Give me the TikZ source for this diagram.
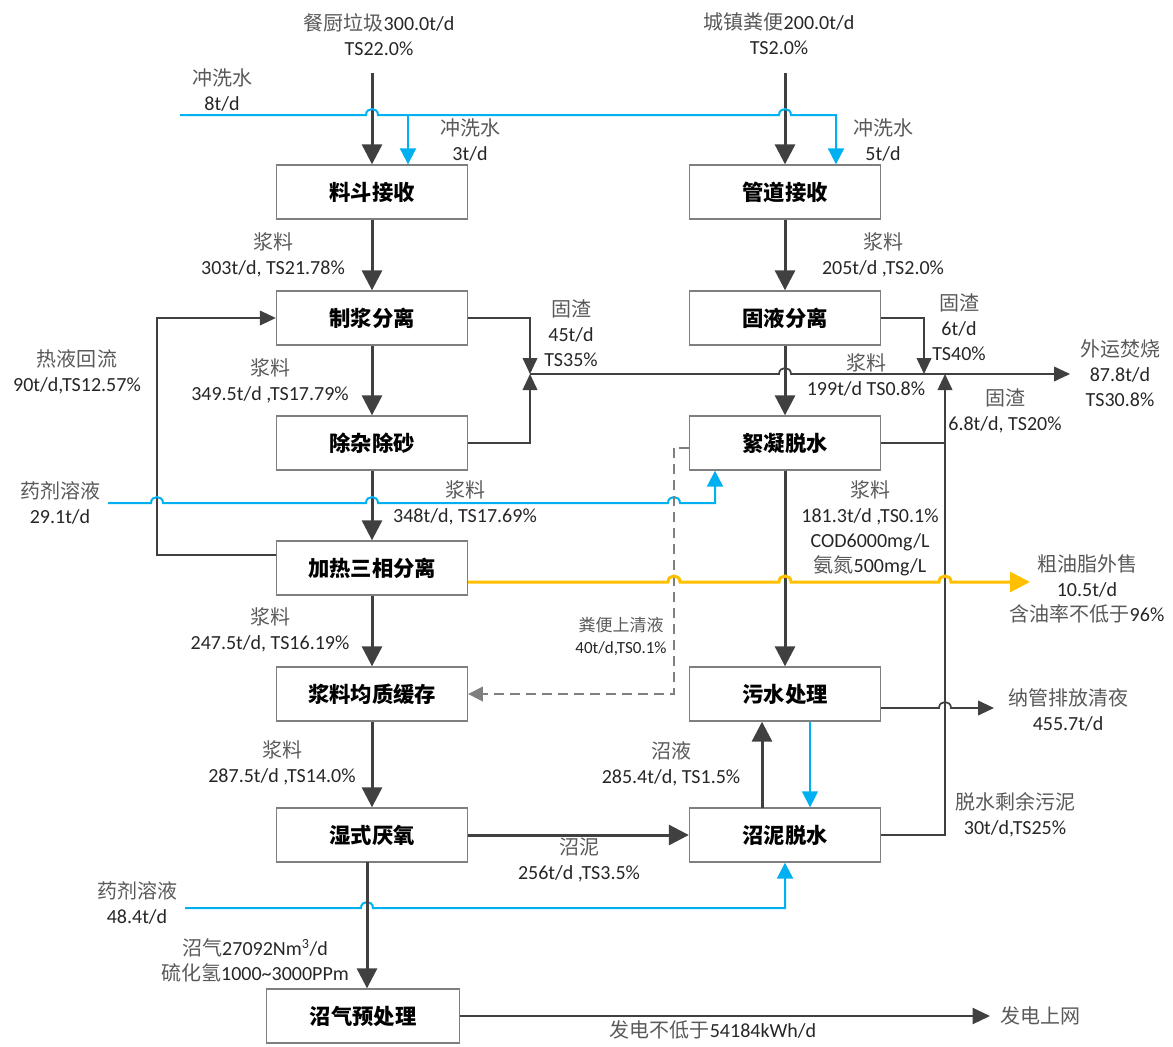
\documentclass[tikz,border=0pt]{standalone}
\usepackage{fontspec}
\setmainfont{Carlito}
\newfontfamily\cjk{Noto Sans CJK SC}
\usetikzlibrary{arrows.meta}
\definecolor{ink}{HTML}{404040}
\definecolor{edge}{HTML}{7F7F7F}
\definecolor{water}{HTML}{00B0F0}
\definecolor{oil}{HTML}{FFC000}
\definecolor{txt}{HTML}{262626}
\definecolor{zhtxt}{HTML}{595959}
\newcommand\zw[1]{{\cjk\color{zhtxt}#1}}
\begin{document}
\begin{tikzpicture}[x=0.75pt, y=-0.75pt,
  box/.style={draw=edge, line width=1pt, fill=white, minimum width=143.25pt,
    minimum height=40.5pt, inner sep=0pt, text=black,
    font=\cjk\bfseries\fontsize{16}{19}\selectfont},
  lbl/.style={align=center, inner sep=0pt, text=txt,
    font=\fontsize{15}{18.75}\selectfont},
  small/.style={font=\fontsize{12.75}{16.5}\selectfont},
  main/.style={draw=ink, line width=2.25pt, -{Triangle[width=15pt,length=15pt]}},
  flow/.style={draw=ink, line width=1.3pt},
  flowarr/.style={flow, -{Triangle[width=11pt,length=12pt]}},
  power/.style={draw=ink, line width=1.6pt, -{Triangle[width=12pt,length=13pt]}},
  wash/.style={draw=water, line width=1.5pt},
  washarr/.style={wash, -{Triangle[width=12pt,length=12pt]}},
  oilarr/.style={draw=oil, line width=2.25pt, -{Triangle[width=15pt,length=15pt]}},
  clear/.style={draw=edge, line width=1.2pt, dash pattern=on 7.5pt off 4.5pt,
    -{Triangle[width=11pt,length=11pt]}},
  hop/.style 2 args={insert path={-- ({#1-6},#2) .. controls ({#1-6},{#2-8}) and ({#1+6},{#2-8}) .. ({#1+6},#2)}}
]
\useasboundingbox (0,0) rectangle (1173,1046);

% process units
\node[box] (hopper)  at (372,192) {料斗接收};
\node[box] (pipe)    at (785,192) {管道接收};
\node[box] (pulp)    at (372,318) {制浆分离};
\node[box] (sls)     at (785,318) {固液分离};
\node[box] (grit)    at (372,443) {除杂除砂};
\node[box] (floc)    at (785,443) {絮凝脱水};
\node[box] (heat)    at (372,568) {加热三相分离};
\node[box] (buffer)  at (372,694) {浆料均质缓存};
\node[box] (sewage)  at (785,694) {污水处理};
\node[box] (ad)      at (372,835) {湿式厌氧};
\node[box] (dewater) at (785,835) {沼泥脱水};
\node[box, minimum width=144.75pt] (biogas) at (363,1016) {沼气预处理};

% stream labels
\node[lbl] (tFood)  at (379,35)  {\zw{餐厨垃圾}300.0t/d\\TS22.0\%};
\node[lbl] (tFece)  at (779,34)  {\zw{城镇粪便}200.0t/d\\TS2.0\%};
\node[lbl] (tWash1) at (222,90)  {\zw{冲洗水}\\8t/d};
\node[lbl] (tWash2) at (470,140) {\zw{冲洗水}\\3t/d};
\node[lbl] (tWash3) at (883,140) {\zw{冲洗水}\\5t/d};
\node[lbl] (tS1)    at (273,255) {\zw{浆料}\\303t/d, TS21.78\%};
\node[lbl] (tS2)    at (883,255) {\zw{浆料}\\205t/d ,TS2.0\%};
\node[lbl] (tR1)    at (571,333) {\zw{固渣}\\45t/d\\TS35\%};
\node[lbl] (tR2)    at (959,327) {\zw{固渣}\\6t/d\\TS40\%};
\node[lbl] (tHot)   at (77,372)  {\zw{热液回流}\\90t/d,TS12.57\%};
\node[lbl] (tS3)    at (270,381) {\zw{浆料}\\349.5t/d ,TS17.79\%};
\node[lbl] (tS4)    at (866,375) {\zw{浆料}\\199t/d TS0.8\%};
\node[lbl] (tBurn)  at (1120,373) {\zw{外运焚烧}\\87.8t/d\\TS30.8\%};
\node[lbl] (tR3)    at (1005,411) {\zw{固渣}\\6.8t/d, TS20\%};
\node[lbl] (tChem1) at (60,503)  {\zw{药剂溶液}\\29.1t/d};
\node[lbl] (tS5)    at (465,503) {\zw{浆料}\\348t/d, TS17.69\%};
\node[lbl] (tS6)    at (870,528) {\zw{浆料}\\181.3t/d ,TS0.1\%\\COD6000mg/L\\\zw{氨氮}500mg/L};
\node[lbl] (tOil)   at (1087,589) {\zw{粗油脂外售}\\10.5t/d\\\zw{含油率不低于}96\%};
\node[lbl, small] (tClear) at (621,636) {\zw{粪便上清液}\\40t/d,TS0.1\%};
\node[lbl] (tS7)    at (270,630) {\zw{浆料}\\247.5t/d, TS16.19\%};
\node[lbl] (tOut)   at (1068,710) {\zw{纳管排放清夜}\\455.7t/d};
\node[lbl] (tS8)    at (282,763) {\zw{浆料}\\287.5t/d ,TS14.0\%};
\node[lbl] (tLiq)   at (671,764) {\zw{沼液}\\285.4t/d, TS1.5\%};
\node[lbl] (tSludge) at (1015,815) {\zw{脱水剩余污泥}\\30t/d,TS25\%};
\node[lbl] (tDig)   at (579,860) {\zw{沼泥}\\256t/d ,TS3.5\%};
\node[lbl] (tChem2) at (137,903) {\zw{药剂溶液}\\48.4t/d};
\node[lbl] (tGas)   at (255,960) {\zw{沼气}27092Nm\textsuperscript{3}/d\\\zw{硫化氢}1000\textasciitilde 3000PPm};
\node[lbl] (tPow)   at (713,1030) {\zw{发电不低于}54184kWh/d};
\node[lbl] (tGrid)  at (1040,1016) {\zw{发电上网}};

% free ends and junctions
\coordinate (foodIn) at (372,73);
\coordinate (feceIn) at (785,73);
\coordinate (w0) at (180,115);
\coordinate (wA) at (408,115);
\coordinate (wB) at (836,115);
\coordinate (jA) at (530,374);
\coordinate (jB) at (924,374);
\coordinate (jC) at (945,374);
\coordinate (burn) at (1070,374);
\coordinate (rc) at (157,555);
\coordinate (r1) at (108,503);
\coordinate (r1e) at (715,503);
\coordinate (d0) at (674,448);
\coordinate (d1) at (679,448);
\coordinate (oilEnd) at (1030,582);
\coordinate (dis) at (994,708);
\coordinate (lq) at (762,808);
\coordinate (rt) at (810,722);
\coordinate (r2) at (185,908);
\coordinate (r2e) at (785,908);
\coordinate (bg) at (367,862);
\coordinate (pw) at (990,1016);

% raw material feeds
\draw[main] (foodIn) -- (hopper);
\draw[main] (feceIn) -- (pipe);

% wash water
\draw[washarr] (w0) [hop={372}{115}] -- (wA) [hop={785}{115}] -- (wB) -- (wB |- pipe.north);
\draw[washarr] (wA) -- (wA |- hopper.north);

% main slurry path
\draw[main] (hopper) -- (pulp);
\draw[main] (pipe) -- (sls);
\draw[main] (pulp) -- (grit);
\draw[main] (sls) -- (floc);
\draw[main] (grit) -- (heat);
\draw[main] (floc) -- (sewage);
\draw[main] (heat) -- (buffer);
\draw[main] (buffer) -- (ad);
\draw[main] (ad) -- (dewater);
\draw[main] (lq) -- (lq |- sewage.south);
\draw[washarr, line width=1.1pt] (rt |- sewage.south) -- (rt |- dewater.north);

% solid residue to incineration
\draw[flowarr] (pulp.east) -| (jA);
\draw[flowarr] (grit.east) -| (jA);
\draw[flowarr] (jA) [hop={785}{374}] -- (burn);
\draw[flowarr] (sls.east) -| (jB);
\draw[flow] (floc.east) -- (floc.east -| jC);
\draw[flowarr] (dewater.east) -| (jC);

% hot liquid recycle
\draw[flowarr] (heat.west |- rc) -- (rc) |- (pulp.west);

% flocculant dosing
\draw[washarr] (r1) [hop={157}{503}] [hop={372}{503}] [hop={674}{503}] -- (r1e) -- (r1e |- floc.south);

% faecal supernatant
\draw[flow, line width=1.1pt, draw=edge] (floc.west |- d0) -- (d1);
\draw[clear] (d0) |- (buffer.east);

% crude oil
\draw[oilarr] (heat.east |- oilEnd) [hop={674}{582}] [hop={785}{582}] [hop={945}{582}] -- (oilEnd);

% treated water discharge
\draw[flowarr] (sewage.east |- dis) [hop={945}{708}] -- (dis);

% dewatering chemicals
\draw[washarr] (r2) [hop={367}{908}] -- (r2e) -- (dewater.south);

% biogas line
\draw[main] (bg) -- (bg |- biogas.north);
\draw[power] (biogas.east) -- (pw);
\end{tikzpicture}
\end{document}
